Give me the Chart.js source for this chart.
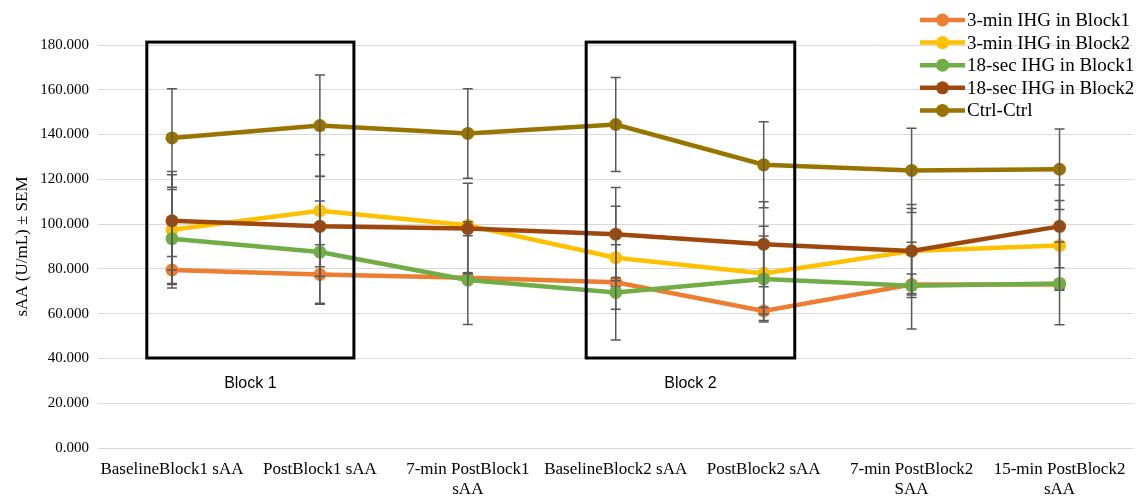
<!DOCTYPE html>
<html>
<head>
<meta charset="utf-8">
<script src="https://cdn.jsdelivr.net/npm/chart.js@4"></script>
<style>
  html, body { margin: 0; padding: 0; background: #fff; }
  #wrap { width: 1140px; height: 496px; }
</style>
</head>
<body>
<div id="wrap"><canvas id="myChart"></canvas></div>
<script>
const categories = [
    "BaselineBlock1 sAA",
    "PostBlock1 sAA",
    ["7-min PostBlock1", "sAA"],
    "BaselineBlock2 sAA",
    "PostBlock2 sAA",
    ["7-min PostBlock2", "SAA"],
    ["15-min PostBlock2", "sAA"]
];

const seriesNames = ["3-min IHG in Block1", "3-min IHG in Block2", "18-sec IHG in Block1", "18-sec IHG in Block2", "Ctrl-Ctrl"];
const seriesColors = ["#ED7D31", "#FFC000", "#70AD47", "#9E480E", "#997300"];

const ihg3Block1 = [79.5, 77.5, 76.0, 74.0, 61.2, 73.0, 73.0];
const ihg3Block2 = [97.5, 106.0, 99.5, 85.0, 78.0, 88.0, 90.5];
const sec18Block1 = [93.5, 87.5, 75.0, 69.5, 75.5, 72.5, 73.5];
const sec18Block2 = [101.5, 99.0, 98.0, 95.5, 91.0, 88.0, 99.0];
const ctrlCtrl = [138.5, 144.0, 140.5, 144.5, 126.5, 124.0, 124.5];

// SEM for each point
const semIhg3Block1 = [6.0, 13.3, 2.3, 2.0, 1.5, 4.7, 2.0];
const semIhg3Block2 = [24.5, 25.0, 1.5, 23.0, 21.0, 19.0, 20.0];
const semSec18Block1 = [22.0, 22.8, 19.8, 21.3, 19.2, 19.4, 18.5];
const semSec18Block2 = [22.0, 22.3, 20.2, 20.8, 19.0, 20.8, 18.5];
const semCtrlCtrl = [22.0, 22.6, 20.0, 21.0, 19.2, 18.8, 18.0];

const yTicks = [0, 20, 40, 60, 80, 100, 120, 140, 160, 180];

// boxes around the blocks, in category / value units
const blockBoxes = [
    { label: "Block 1", from: -0.17, to: 1.23, low: 40.2, high: 181.3 },
    { label: "Block 2", from: 2.8, to: 4.21, low: 40.2, high: 181.3 }
];

const seriesValues = [ihg3Block1, ihg3Block2, sec18Block1, sec18Block2, ctrlCtrl];
const seriesSem = [semIhg3Block1, semIhg3Block2, semSec18Block1, semSec18Block2, semCtrlCtrl];

const serif = "'Liberation Serif', 'Times New Roman', serif";

const errorBars = {
    id: "errorBars",
    afterDatasetDraw(chart, args) {
        const sem = seriesSem[args.index];
        const ctx = chart.ctx;
        const y = chart.scales.y;
        ctx.save();
        ctx.strokeStyle = "#595959";
        ctx.lineWidth = 1.5;
        args.meta.data.forEach((pt, i) => {
            const v = seriesValues[args.index][i];
            const top = y.getPixelForValue(v + sem[i]);
            const bot = y.getPixelForValue(v - sem[i]);
            ctx.beginPath();
            ctx.moveTo(pt.x, top);
            ctx.lineTo(pt.x, bot);
            ctx.moveTo(pt.x - 5, top);
            ctx.lineTo(pt.x + 5, top);
            ctx.moveTo(pt.x - 5, bot);
            ctx.lineTo(pt.x + 5, bot);
            ctx.stroke();
        });
        ctx.restore();
    }
};

const boxesAndLegend = {
    id: "boxesAndLegend",
    afterDraw(chart) {
        const ctx = chart.ctx;
        const x = chart.scales.x;
        const y = chart.scales.y;
        const step = x.getPixelForValue(1) - x.getPixelForValue(0);
        const x0 = x.getPixelForValue(0);
        ctx.save();
        blockBoxes.forEach(b => {
            const left = x0 + b.from * step;
            const right = x0 + b.to * step;
            const top = y.getPixelForValue(b.high);
            const bottom = y.getPixelForValue(b.low);
            ctx.strokeStyle = "#000";
            ctx.lineWidth = 3;
            ctx.strokeRect(left, top, right - left, bottom - top);
            ctx.fillStyle = "#000";
            ctx.font = "16px 'Liberation Sans', Arial, sans-serif";
            ctx.textAlign = "center";
            ctx.textBaseline = "middle";
            ctx.fillText(b.label, (left + right) / 2, bottom + 26);
        });

        // legend, top right
        ctx.font = "19px " + serif;
        ctx.textAlign = "left";
        ctx.textBaseline = "middle";
        chart.data.datasets.forEach((ds, i) => {
            const ly = 20 + i * 22.6;
            ctx.strokeStyle = ds.borderColor;
            ctx.lineWidth = 4.5;
            ctx.beginPath();
            ctx.moveTo(920, ly);
            ctx.lineTo(965, ly);
            ctx.stroke();
            ctx.fillStyle = ds.borderColor;
            ctx.beginPath();
            ctx.arc(942.5, ly, 6.5, 0, Math.PI * 2);
            ctx.fill();
            ctx.fillStyle = "#000";
            ctx.fillText(ds.label, 967, ly + 1);
        });
        ctx.restore();
    }
};

new Chart("myChart", {
    type: "line",
    data: {
        labels: categories,
        datasets: seriesNames.map((name, i) => ({
            label: name,
            data: seriesValues[i],
            borderColor: seriesColors[i],
            backgroundColor: seriesColors[i],
            borderWidth: 4.5,
            pointRadius: 6.5,
            pointHoverRadius: 6.5,
            pointBorderWidth: 0,
            tension: 0,
            order: seriesNames.length - 1 - i
        }))
    },
    options: {
        responsive: true,
        maintainAspectRatio: false,
        animation: false,
        layout: { padding: { top: 45, right: 5, left: 0, bottom: 0 } },
        plugins: {
            legend: { display: false },
            tooltip: { enabled: false }
        },
        scales: {
            x: {
                offset: true,
                grid: { display: false },
                border: { display: false },
                afterFit: s => { s.height = 48; },
                ticks: {
                    color: "#000",
                    font: { family: serif, size: 17 },
                    maxRotation: 0,
                    autoSkip: false,
                    padding: 3
                }
            },
            y: {
                min: 0,
                max: 180,
                afterBuildTicks: axis => { axis.ticks = yTicks.map(v => ({ value: v })); },
                afterFit: s => { s.width = 98; },
                grid: { color: "#d9d9d9", lineWidth: 1, drawTicks: false },
                border: { display: false },
                title: {
                    display: true,
                    text: "sAA (U/mL) ± SEM",
                    color: "#000",
                    font: { family: serif, size: 17 },
                    padding: { top: 12, bottom: 6 }
                },
                ticks: {
                    color: "#000",
                    font: { family: serif, size: 15 },
                    padding: 9,
                    callback: v => v.toFixed(3)
                }
            }
        }
    },
    plugins: [errorBars, boxesAndLegend]
});
</script>
</body>
</html>
